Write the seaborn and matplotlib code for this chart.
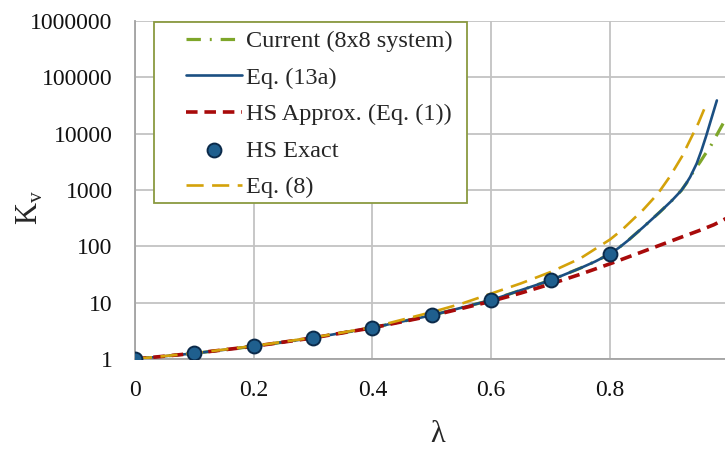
import numpy as np
import pandas as pd
import seaborn as sns
import matplotlib.pyplot as plt
from matplotlib.patches import Rectangle

# Current (8x8 system)
lam_cur = [0.0, 0.1, 0.2, 0.3, 0.4, 0.5, 0.6, 0.7, 0.75, 0.775, 0.8, 0.815, 0.83, 0.856, 0.884,
           0.904, 0.912, 0.92, 0.93, 0.94, 0.952, 0.96, 0.968, 0.98, 0.991, 0.999]
k_cur = [1.0, 1.26, 1.68, 2.37, 3.60, 5.97, 11.1, 25.0, 41.0, 53.7, 73.6, 94.4, 126, 219, 407,
         646, 794, 977, 1380, 2090, 3160, 4270, 5620, 9550, 15500, 21400]

# Eq. (13a)
lam_13a = [0.0, 0.1, 0.2, 0.3, 0.4, 0.5, 0.6, 0.7, 0.75, 0.775, 0.8, 0.815, 0.83, 0.856, 0.884,
           0.904, 0.912, 0.92, 0.928, 0.935, 0.946, 0.954, 0.962, 0.968, 0.974, 0.98]
k_13a = [1.0, 1.26, 1.68, 2.37, 3.60, 5.97, 11.1, 25.0, 41.0, 53.7, 73.6, 94.4, 126, 219, 407,
         646, 794, 977, 1290, 1700, 2950, 5010, 9120, 14800, 24000, 38900]

# HS Approx. (Eq. (1))
lam_hsa = [0.0, 0.1, 0.2, 0.3, 0.4, 0.5, 0.6, 0.65, 0.7, 0.75, 0.8, 0.85, 0.9, 0.925, 0.95, 0.975, 1.0]
k_hsa = [1.0, 1.263, 1.680, 2.370, 3.582, 5.870, 10.59, 14.84, 21.42, 31.93, 49.0, 76.9, 121,
         152, 190, 242, 330]

# HS Exact
lam_hse = [0.0, 0.1, 0.2, 0.3, 0.4, 0.5, 0.6, 0.7, 0.8]
k_hse = [1.0, 1.263, 1.680, 2.371, 3.596, 5.970, 11.135, 24.955, 73.555]

# Eq. (8)
lam_eq8 = [0.0, 0.1, 0.2, 0.3, 0.4, 0.5, 0.55, 0.6, 0.65, 0.7, 0.75, 0.8, 0.82, 0.856, 0.881,
           0.901, 0.921, 0.935, 0.949, 0.962]
k_eq8 = [1.0, 1.27, 1.70, 2.40, 3.65, 6.8, 9.6, 14.5, 22, 35, 61, 132, 195, 447, 871,
         1740, 3890, 7760, 15500, 33100]

x_ticks = [0, 0.2, 0.4, 0.6, 0.8]
x_ticklabels = ['0', '0.2', '0.4', '0.6', '0.8']
y_ticks = [1, 10, 100, 1000, 10000, 100000, 1000000]

sns.set_theme(style='white')
plt.rcParams['font.family'] = ['Liberation Serif', 'DejaVu Serif']
plt.rcParams['mathtext.fontset'] = 'custom'
plt.rcParams['mathtext.rm'] = 'Liberation Serif'

fig = plt.figure(figsize=(7.25, 4.5), dpi=100)
W, H = 725, 450
ax = fig.add_axes([135 / W, 1 - 359 / H, (725 - 135) / W, (359 - 21) / H])

c_green = '#7ea62a'
c_blue = '#1b4f82'
c_red = '#a80a0a'
c_gold = '#d4a20a'

def df_of(lam, k):
    return pd.DataFrame({'lam': lam, 'K': k})

sns.lineplot(data=df_of(lam_cur, k_cur), x='lam', y='K', ax=ax, color=c_green, lw=2.3,
             linestyle=(0, (4.5, 2.8, 0.6, 2.8)), label='Current (8x8 system)', zorder=2)
sns.lineplot(data=df_of(lam_13a, k_13a), x='lam', y='K', ax=ax, color=c_blue, lw=1.9,
             label='Eq. (13a)', zorder=3)
sns.lineplot(data=df_of(lam_hsa, k_hsa), x='lam', y='K', ax=ax, color=c_red, lw=2.6,
             linestyle=(0, (3.2, 1.9)), label='HS Approx. (Eq. (1))', zorder=3)
sns.scatterplot(data=df_of(lam_hse, k_hse), x='lam', y='K', ax=ax, color='#1f5f8e', s=100,
                edgecolor='#0b2a4a', linewidth=1.4, label='HS Exact', zorder=5)
sns.lineplot(data=df_of(lam_eq8, k_eq8), x='lam', y='K', ax=ax, color=c_gold, lw=1.9,
             linestyle=(0, (6.5, 3.2)), label='Eq. (8)', zorder=3)

ax.set_yscale('log')
ax.set_ylim(1, 1000000)
ax.set_xlim(0, 0.9937)
ax.set_xticks(x_ticks)
ax.set_xticklabels(x_ticklabels)
ax.set_yticks(y_ticks)
ax.set_yticklabels([str(v) for v in y_ticks])
ax.yaxis.set_minor_locator(plt.NullLocator())
ax.tick_params(axis='both', length=0, labelsize=17, colors='#111111')
ax.tick_params(axis='y', pad=16)
ax.tick_params(axis='x', pad=15)
ax.grid(True, color='#c3c3c3', lw=1.3)
for s in ['top', 'right']:
    ax.spines[s].set_visible(False)
for s in ['left', 'bottom']:
    ax.spines[s].set_color('#a3a3a3')
    ax.spines[s].set_linewidth(1.3)
ax.set_xlabel('')
ax.set_ylabel('')

fig.text(438 / W, 1 - 435 / H, 'λ', ha='center', va='center', fontsize=22)
fig.text(30 / W, 1 - 207 / H, r'K$_\mathregular{v}$', ha='center', va='center', fontsize=22,
         rotation=90)

# legend frame drawn separately (wider left padding than matplotlib's own frame)
frame = Rectangle((154 / W, 1 - 203 / H), (467 - 154) / W, (203 - 22) / H,
                  transform=fig.transFigure, facecolor='white', edgecolor='#8a9a40',
                  lw=1.3, zorder=6, clip_on=False)
ax.add_patch(frame)
handles, labels = ax.get_legend_handles_labels()
order = ['Current (8x8 system)', 'Eq. (13a)', 'HS Approx. (Eq. (1))', 'HS Exact', 'Eq. (8)']
hmap = dict(zip(labels, handles))
leg = ax.legend([hmap[o] for o in order], order, loc='upper left',
                bbox_to_anchor=(186 / W, 1 - 30 / H), bbox_transform=fig.transFigure,
                frameon=False, fontsize=17.5, handlelength=2.3, handletextpad=0.15,
                labelspacing=0.6, borderpad=0, borderaxespad=0)
leg.set_zorder(7)

fig.savefig('out.png', dpi=100)
